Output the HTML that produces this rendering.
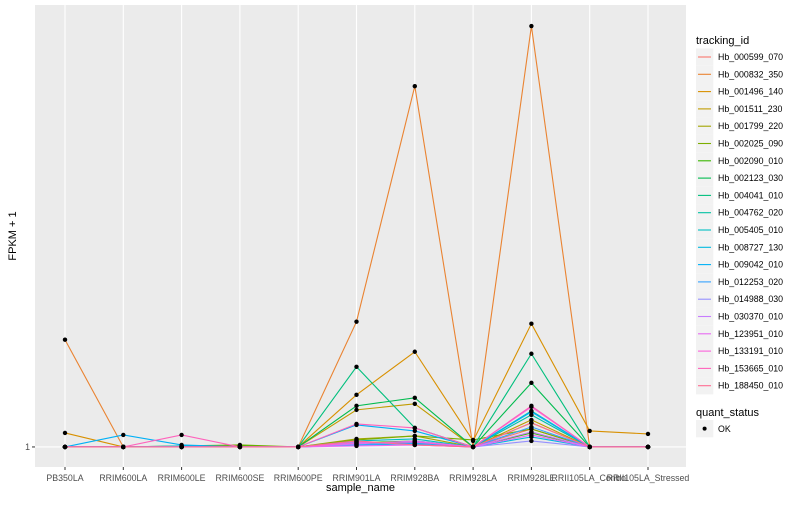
<!DOCTYPE html>
<html><head><meta charset="utf-8"><style>
body{margin:0;background:#fff;font-family:"Liberation Sans",sans-serif}
svg text{font-family:"Liberation Sans",sans-serif}
</style></head><body>
<svg id="c" width="800" height="500"></svg>
<script>
const categories=["PB350LA","RRIM600LA","RRIM600LE","RRIM600SE","RRIM600PE","RRIM901LA","RRIM928BA","RRIM928LA","RRIM928LE","RRII105LA_Control","RRII105LA_Stressed"];
const seriesNames=["Hb_000599_070","Hb_000832_350","Hb_001496_140","Hb_001511_230","Hb_001799_220","Hb_002025_090","Hb_002090_010","Hb_002123_030","Hb_004041_010","Hb_004762_020","Hb_005405_010","Hb_008727_130","Hb_009042_010","Hb_012253_020","Hb_014988_030","Hb_030370_010","Hb_123951_010","Hb_133191_010","Hb_153665_010","Hb_188450_010"];
const colors=["#F8766D","#EA8331","#D89000","#C09B00","#A3A500","#7CAE00","#39B600","#00BB4E","#00BF7D","#00C1A3","#00BFC4","#00BAE0","#00B0F6","#35A2FF","#9590FF","#C77CFF","#E76BF3","#FA62DB","#FF62BC","#FF6C91"];
const s00=[1,1,1,1,1,1.5,1.3,1,2.8,1,1];
const s01=[11.7,1,1,1,1,13.5,37,1,43,1,1];
const s02=[2.4,1,1,1,1,6.2,10.5,1.6,13.3,2.6,2.3];
const s03=[1,1,1,1,1,4.7,5.3,1,3.7,1,1];
const s04=[1,1,1,1,1,1.8,2.1,1,3.4,1,1];
const s05=[1,1,1.1,1.2,1,1.7,2.1,1.7,2.8,1,1];
const s06=[1,1,1,1.1,1,1.4,1.6,1,2.4,1,1];
const s07=[1,1,1,1,1,5.1,5.9,1,7.4,1,1];
const s08=[1,1,1,1,1,9,2.9,1,10.3,1,1];
const s09=[1,1,1,1,1,1.3,1.5,1,4.2,1,1];
const s10=[1,1,1.1,1,1,1.6,1.8,1,4.6,1,1];
const s11=[1,1,1,1,1,1.2,1.3,1,2.0,1,1];
const s12=[1,2.2,1.2,1,1,3.2,2.6,1,4.5,1,1];
const s13=[1,1,1,1,1,1.2,1.4,1,3.0,1,1];
const s14=[1,1,1,1,1,1.5,1.2,1,1.6,1,1];
const s15=[1,1,1,1,1,1.3,1.6,1,2.5,1,1];
const s16=[1,1,1,1,1,1.1,1.2,1,2.2,1,1];
const s17=[1,1,1,1,1,1.4,1.5,1,5.0,1,1];
const s18=[1,1,2.2,1,1,3.3,2.9,1,5.1,1,1];
const s19=[1,1,1,1,1,1.6,1.2,1,3.4,1,1];
const values=[s00,s01,s02,s03,s04,s05,s06,s07,s08,s09,s10,s11,s12,s13,s14,s15,s16,s17,s18,s19];
const yTicks=[1];

const svg=document.getElementById('c');
const NS='http://www.w3.org/2000/svg';
const L=35,R=686,T=5,B=467;
const yMin=-1.0,yMax=45.1;
const X0=65,X1=648;
const x=i=>X0+i*(X1-X0)/(categories.length-1);
const y=v=>B-(v-yMin)/(yMax-yMin)*(B-T);
function mk(tag,attrs,parent){const e=document.createElementNS(NS,tag);for(const k in attrs)e.setAttribute(k,attrs[k]);(parent||svg).appendChild(e);return e;}
const panel=mk('rect',{x:L,y:T,width:R-L,height:B-T,fill:'#EBEBEB'});


categories.forEach((c,i)=>{
  const g=mk('line',{x1:x(i),x2:x(i),y1:T,y2:B,stroke:'#fff','stroke-width':1.1});
  
  
  mk('line',{x1:x(i),x2:x(i),y1:B,y2:B+3,stroke:'#333'});
  const t=mk('text',{x:x(i),y:B+14,'text-anchor':'middle','font-size':8.8,fill:'#4D4D4D'});
  t.textContent=c;
  
  
});
yTicks.forEach(v=>{
  const g=mk('line',{x1:L,x2:R,y1:y(v),y2:y(v),stroke:'#fff','stroke-width':1.1});
  
  
  mk('line',{x1:L-3,x2:L,y1:y(v),y2:y(v),stroke:'#333'});
  const t=mk('text',{x:L-5,y:y(v)+3,'text-anchor':'end','font-size':8.8,fill:'#4D4D4D'});
  t.textContent=v;
  
  
});
values.forEach((s,k)=>{
  const p=mk('polyline',{points:s.map((v,i)=>x(i)+','+y(v)).join(' '),fill:'none',stroke:colors[k],'stroke-width':1.1});
  
  
});
values.forEach(s=>s.forEach((v,i)=>{
  const c=mk('circle',{cx:x(i),cy:y(v),r:2.2,fill:'#000'});
  
  
}));
const xt=mk('text',{x:(L+R)/2,y:491,'text-anchor':'middle','font-size':11,fill:'#000'});
xt.textContent='sample_name';


const yt=mk('text',{x:16,y:(T+B)/2,'text-anchor':'middle','font-size':11,fill:'#000',transform:'rotate(-90 16 '+(T+B)/2+')'});
yt.textContent='FPKM + 1';


const lt=mk('text',{x:696,y:44,'font-size':11,fill:'#000'});
lt.textContent='tracking_id';


seriesNames.forEach((n,k)=>{
  const cy=57+k*17.3;
  const bx=mk('rect',{x:696,y:cy-8.6,width:17.3,height:17.3,fill:'#F2F2F2'});
  
  
  mk('line',{x1:698,x2:711,y1:cy,y2:cy,stroke:colors[k],'stroke-width':1.1});
  const t=mk('text',{x:718,y:cy+3,'font-size':8.8,fill:'#000'});
  t.textContent=n;
  
  
});
const qt=mk('text',{x:696,y:416,'font-size':11,fill:'#000'});
qt.textContent='quant_status';


const qb=mk('rect',{x:696,y:420,width:17.3,height:17.3,fill:'#F2F2F2'});


mk('circle',{cx:704.6,cy:428.6,r:2,fill:'#000'});
const ok=mk('text',{x:718,y:432,'font-size':8.8,fill:'#000'});
ok.textContent='OK';


</script>
</body></html>
